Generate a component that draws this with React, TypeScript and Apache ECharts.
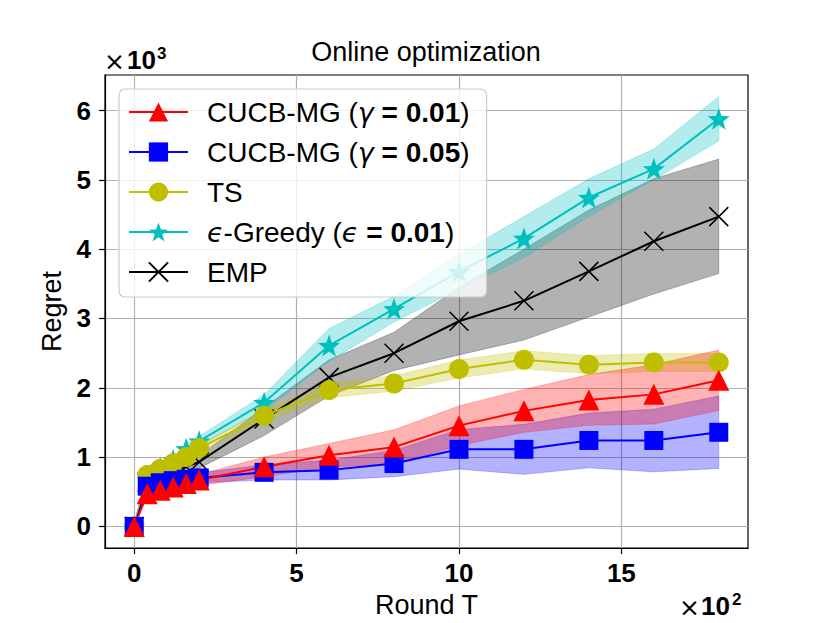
import React, { useEffect, useRef } from 'react';
import * as echarts from 'echarts';

// Rounds (x axis, raw units; axis labels shown in ×10²)
const rounds = [0, 40, 80, 120, 160, 200, 400, 600, 800, 1000, 1200, 1400, 1600, 1800];

// CUCB-MG (γ = 0.01)
const redMean = [0, 470, 520, 570, 620, 670, 860, 1026, 1144, 1454, 1667, 1824, 1905, 2109];
const redLo = [0, 440, 480, 520, 560, 590, 720, 856, 894, 1169, 1357, 1458, 1477, 1672];
const redHi = [0, 500, 560, 620, 680, 750, 1000, 1196, 1394, 1739, 1977, 2190, 2333, 2546];

// CUCB-MG (γ = 0.05)
const blueMean = [0, 580, 630, 660, 680, 700, 780, 812, 907, 1112, 1112, 1240, 1240, 1358];
const blueLo = [0, 550, 590, 610, 620, 630, 670, 670, 717, 827, 751, 845, 788, 836];
const blueHi = [0, 610, 670, 710, 740, 770, 890, 954, 1097, 1397, 1473, 1635, 1692, 1880];

// TS
const tsMean = [0, 740, 830, 910, 1000, 1130, 1596, 1967, 2062, 2270, 2404, 2333, 2366, 2366];
const tsLo = [0, 710, 800, 870, 960, 1080, 1506, 1857, 1952, 2140, 2274, 2203, 2236, 2236];
const tsHi = [0, 770, 860, 950, 1040, 1180, 1686, 2077, 2172, 2400, 2534, 2463, 2496, 2496];

// ϵ-Greedy (ϵ = 0.01)
const egMean = [0, 730, 850, 960, 1120, 1230, 1786, 2610, 3140, 3677, 4155, 4745, 5159, 5881];
const egLo = [0, 700, 810, 910, 1060, 1160, 1670, 2380, 2950, 3420, 3876, 4470, 5000, 5562];
const egHi = [0, 760, 890, 1010, 1180, 1300, 1900, 2855, 3320, 3930, 4470, 5015, 5444, 6204];

// EMP
const empMean = [0, 640, 720, 790, 860, 930, 1549, 2150, 2499, 2960, 3255, 3680, 4114, 4470];
const empLo = [0, 600, 670, 730, 790, 840, 1311, 1881, 2250, 2474, 2689, 3021, 3353, 3648];
const empHi = [0, 680, 770, 850, 930, 1020, 1715, 2404, 2800, 3450, 4000, 4565, 5016, 5301];

// Tick values
const xTicks = [0, 500, 1000, 1500];
const yTicks = [0, 1000, 2000, 3000, 4000, 5000, 6000];

const names = [
  'CUCB-MG (γ = 0.01)',
  'CUCB-MG (γ = 0.05)',
  'TS',
  'ϵ-Greedy (ϵ = 0.01)',
  'EMP',
];
const legendRich: Record<string, string> = {
  'CUCB-MG (γ = 0.01)': 'CUCB-MG ({g|γ}{b| = 0.01})',
  'CUCB-MG (γ = 0.05)': 'CUCB-MG ({g|γ}{b| = 0.05})',
  'TS': 'TS',
  'ϵ-Greedy (ϵ = 0.01)': '{g|ϵ}-Greedy ({g|ϵ}{b| = 0.01})',
  'EMP': 'EMP',
};

const FONT = "'Liberation Sans', Arial, Helvetica, sans-serif";
const STAR = 'path://M50,0 L62,34 L98,35 L69,57 L80,92 L50,71 L20,92 L31,57 L2,35 L38,34 Z';
const XMARK = 'path://M0,0 L10,10 M10,0 L0,10';

export default function App() {
  const ref = useRef<HTMLDivElement>(null);
  useEffect(() => {
    const chart = echarts.init(ref.current!, null, { renderer: 'svg' });
    const pts = (ys: number[]) => rounds.map((x, i) => [x, ys[i]]);
    const band = (lo: number[], hi: number[], color: string) => ({
      type: 'custom',
      silent: true,
      z: 1,
      data: rounds.map((x, i) => [x, lo[i], hi[i]]),
      encode: { x: 0, y: [1, 2] },
      renderItem: (params: any, api: any) => {
        if (params.dataIndex !== 0) return null;
        const upper = rounds.map((x, i) => api.coord([x, hi[i]]));
        const lower = rounds.map((x, i) => api.coord([x, lo[i]])).reverse();
        return {
          type: 'polygon',
          shape: { points: upper.concat(lower) },
          style: { fill: color, stroke: color, lineWidth: 0.8 },
        };
      },
    });
    const line = (name: string, ys: number[], color: string, symbol: string, size: number, extra: any = {}) => ({
      type: 'line', name, data: pts(ys), symbol, symbolSize: size,
      itemStyle: { color, ...(extra.itemStyle || {}) },
      lineStyle: { color, width: 2 }, z: 2, silent: true,
    });

    chart.setOption({
      animation: false,
      title: {
        text: 'Online optimization', left: 426, top: 38, textAlign: 'center', padding: 0,
        textStyle: { fontFamily: FONT, fontSize: 27, fontWeight: 'normal', color: '#000' },
      },
      grid: { left: 105, top: 75, width: 643, height: 479, show: true, borderColor: '#000', borderWidth: 1.2, containLabel: false },
      xAxis: {
        type: 'value', min: -90, max: 1890,
        name: 'Round T', nameLocation: 'middle', nameGap: 36,
        nameTextStyle: { fontFamily: FONT, fontSize: 27, color: '#000' },
        axisLine: { show: true, onZero: false, lineStyle: { color: '#000', width: 1.2 } },
        axisTick: { show: true, customValues: xTicks, length: 6, lineStyle: { color: '#000', width: 1.2 } },
        axisLabel: {
          customValues: xTicks, margin: 12, formatter: (v: number) => String(v / 100),
          fontFamily: FONT, fontSize: 26, fontWeight: 'bold', color: '#000',
        },
        splitLine: { show: true, lineStyle: { color: '#b0b0b0', width: 1.2 } },
      },
      yAxis: {
        type: 'value', min: -313, max: 6513,
        name: 'Regret', nameLocation: 'middle', nameGap: 38, nameRotate: 90,
        nameTextStyle: { fontFamily: FONT, fontSize: 27, color: '#000' },
        axisLine: { show: true, onZero: false, lineStyle: { color: '#000', width: 1.2 } },
        axisTick: { show: true, customValues: yTicks, length: 6, lineStyle: { color: '#000', width: 1.2 } },
        axisLabel: {
          customValues: yTicks, margin: 14, formatter: (v: number) => String(v / 1000),
          fontFamily: FONT, fontSize: 26, fontWeight: 'bold', color: '#000',
        },
        splitLine: { show: true, lineStyle: { color: '#b0b0b0', width: 1.2 } },
      },
      legend: {
        data: names, orient: 'vertical', left: 119, top: 89,
        itemWidth: 59, itemHeight: 24, itemGap: 10,
        padding: [8, 17, 10, 9],
        backgroundColor: 'rgba(255,255,255,0.8)', borderColor: '#cccccc', borderWidth: 1.2, borderRadius: 6,
        formatter: (n: string) => legendRich[n] || n,
        selectedMode: false,
        textStyle: {
          fontFamily: FONT, fontSize: 28, color: '#000', lineHeight: 30, padding: [0, 0, 0, 14],
          rich: {
            b: { fontFamily: FONT, fontSize: 28, fontWeight: 'bold', color: '#000', lineHeight: 30 },
            g: { fontFamily: "'DejaVu Sans', sans-serif", fontSize: 27, fontStyle: 'italic', color: '#000', lineHeight: 30 },
          },
        },
      },
      graphic: [
        { type: 'text', left: 104, top: 49, style: { text: '×', font: `25px 'DejaVu Sans', sans-serif`, fill: '#000' } },
        { type: 'text', left: 127, top: 47, style: { text: '10', font: `bold 26px ${FONT}`, fill: '#000' } },
        { type: 'text', left: 157, top: 45, style: { text: '3', font: `bold 17px ${FONT}`, fill: '#000' } },
        { type: 'text', left: 679, top: 595, style: { text: '×', font: `25px 'DejaVu Sans', sans-serif`, fill: '#000' } },
        { type: 'text', left: 701, top: 593, style: { text: '10', font: `bold 26px ${FONT}`, fill: '#000' } },
        { type: 'text', left: 732, top: 591, style: { text: '2', font: `bold 17px ${FONT}`, fill: '#000' } },
      ],
      series: [
        band(empLo, empHi, 'rgba(0,0,0,0.3)'),
        band(egLo, egHi, 'rgba(0,191,191,0.3)'),
        band(tsLo, tsHi, 'rgba(191,191,0,0.3)'),
        band(blueLo, blueHi, 'rgba(0,0,255,0.3)'),
        band(redLo, redHi, 'rgba(255,0,0,0.3)'),
        line(names[4], empMean, '#000000', XMARK, 19, { itemStyle: { borderColor: '#000', borderWidth: 1.5 } }),
        line(names[3], egMean, '#00bfbf', STAR, 22),
        line(names[2], tsMean, '#bfbf00', 'circle', 20),
        line(names[1], blueMean, '#0000ff', 'rect', 19),
        line(names[0], redMean, '#ff0000', 'triangle', 21),
      ],
    });
    return () => chart.dispose();
  }, []);
  return <div ref={ref} style={{ width: 830, height: 623, position: 'absolute', left: 0, top: 0, background: '#fff' }} />;
}
